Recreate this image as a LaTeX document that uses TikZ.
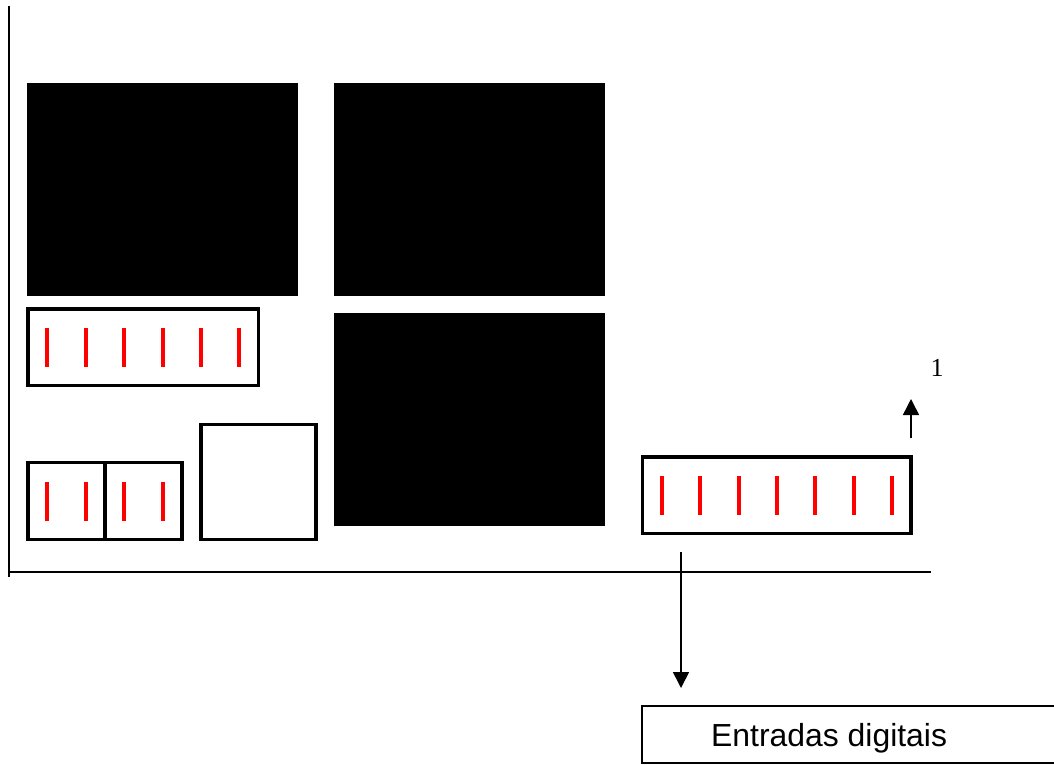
\documentclass[tikz,border=0pt]{standalone}
\usepackage{fontspec}
\setmainfont{Liberation Serif}
\newfontfamily\arialfont{Liberation Sans}
\usetikzlibrary{arrows.meta}
\tikzset{
  x=1pt,y=-1pt,
  block/.style={draw=none,fill=black,anchor=north west,inner sep=0pt,outer sep=0pt},
  box/.style={draw=black,fill=white,anchor=north west,inner sep=0pt,outer sep=0pt,line width=3.4pt},
  redtick/.style={draw=red,line width=4pt},
  axis/.style={draw=black,line width=2pt},
  conn/.style={draw=black,line width=1.6pt,-{Triangle[length=16pt,width=16pt]}},
  label box/.style={draw=black,fill=white,anchor=north west,inner sep=0pt,outer sep=0pt,line width=1.5pt}
}
\begin{document}
\begin{tikzpicture}
\useasboundingbox (0,0) rectangle (1054,764);
% axes
\coordinate (axtop) at (9,6);
\coordinate (axbot) at (9,577);
\coordinate (axleft) at (9,572);
\coordinate (axright) at (931,572);
\draw[axis] (axtop) -- (axbot);
\draw[axis] (axleft) -- (axright);
% black blocks
\node[block,minimum width=271pt,minimum height=213pt] (b1) at (27,83) {};
\node[block,minimum width=271pt,minimum height=213pt] (b2) at (334,83) {};
\node[block,minimum width=271pt,minimum height=213pt] (b3) at (334,313) {};
% outlined boxes
\node[box,minimum width=230.5pt,minimum height=76.5pt] (c1) at (28,309) {};
\node[box,minimum width=77pt,minimum height=77pt] (c2) at (28,462.5) {};
\node[box,minimum width=77pt,minimum height=77pt] (c3) at (105,462.5) {};
\node[box,minimum width=115pt,minimum height=115pt] (c4) at (201,424.5) {};
\node[box,minimum width=268.5pt,minimum height=76.5pt] (c5) at (642.5,457) {};
% red ticks
\foreach \x in {47,85.5,124,162.5,200.5,239}
  \draw[redtick] (\x,328) -- (\x,367);
\foreach \x in {47,85.5,124,162.5}
  \draw[redtick] (\x,482) -- (\x,520.5);
\foreach \x in {661.5,700,738.5,776.5,815,853.5,892}
  \draw[redtick] (\x,476) -- (\x,514.5);
% label box
\node[label box,minimum width=420pt,minimum height=57pt] (lab) at (642,706) {};
\node[font=\arialfont\fontsize{31.9}{36}\selectfont,anchor=base west,inner sep=0pt] (labtext) at (711,746) {Entradas digitais};
% connectors
\coordinate (downstart) at (681,552);
\coordinate (downend) at (681,688);
\draw[conn] (downstart) -- (downend);
\coordinate (upstart) at (911,438);
\coordinate (upend) at (911,399);
\draw[conn] (upstart) -- (upend);
% one
\node[font=\fontsize{26}{30}\selectfont,anchor=base,inner sep=0pt] (one) at (937,376) {1};
\end{tikzpicture}
\end{document}
